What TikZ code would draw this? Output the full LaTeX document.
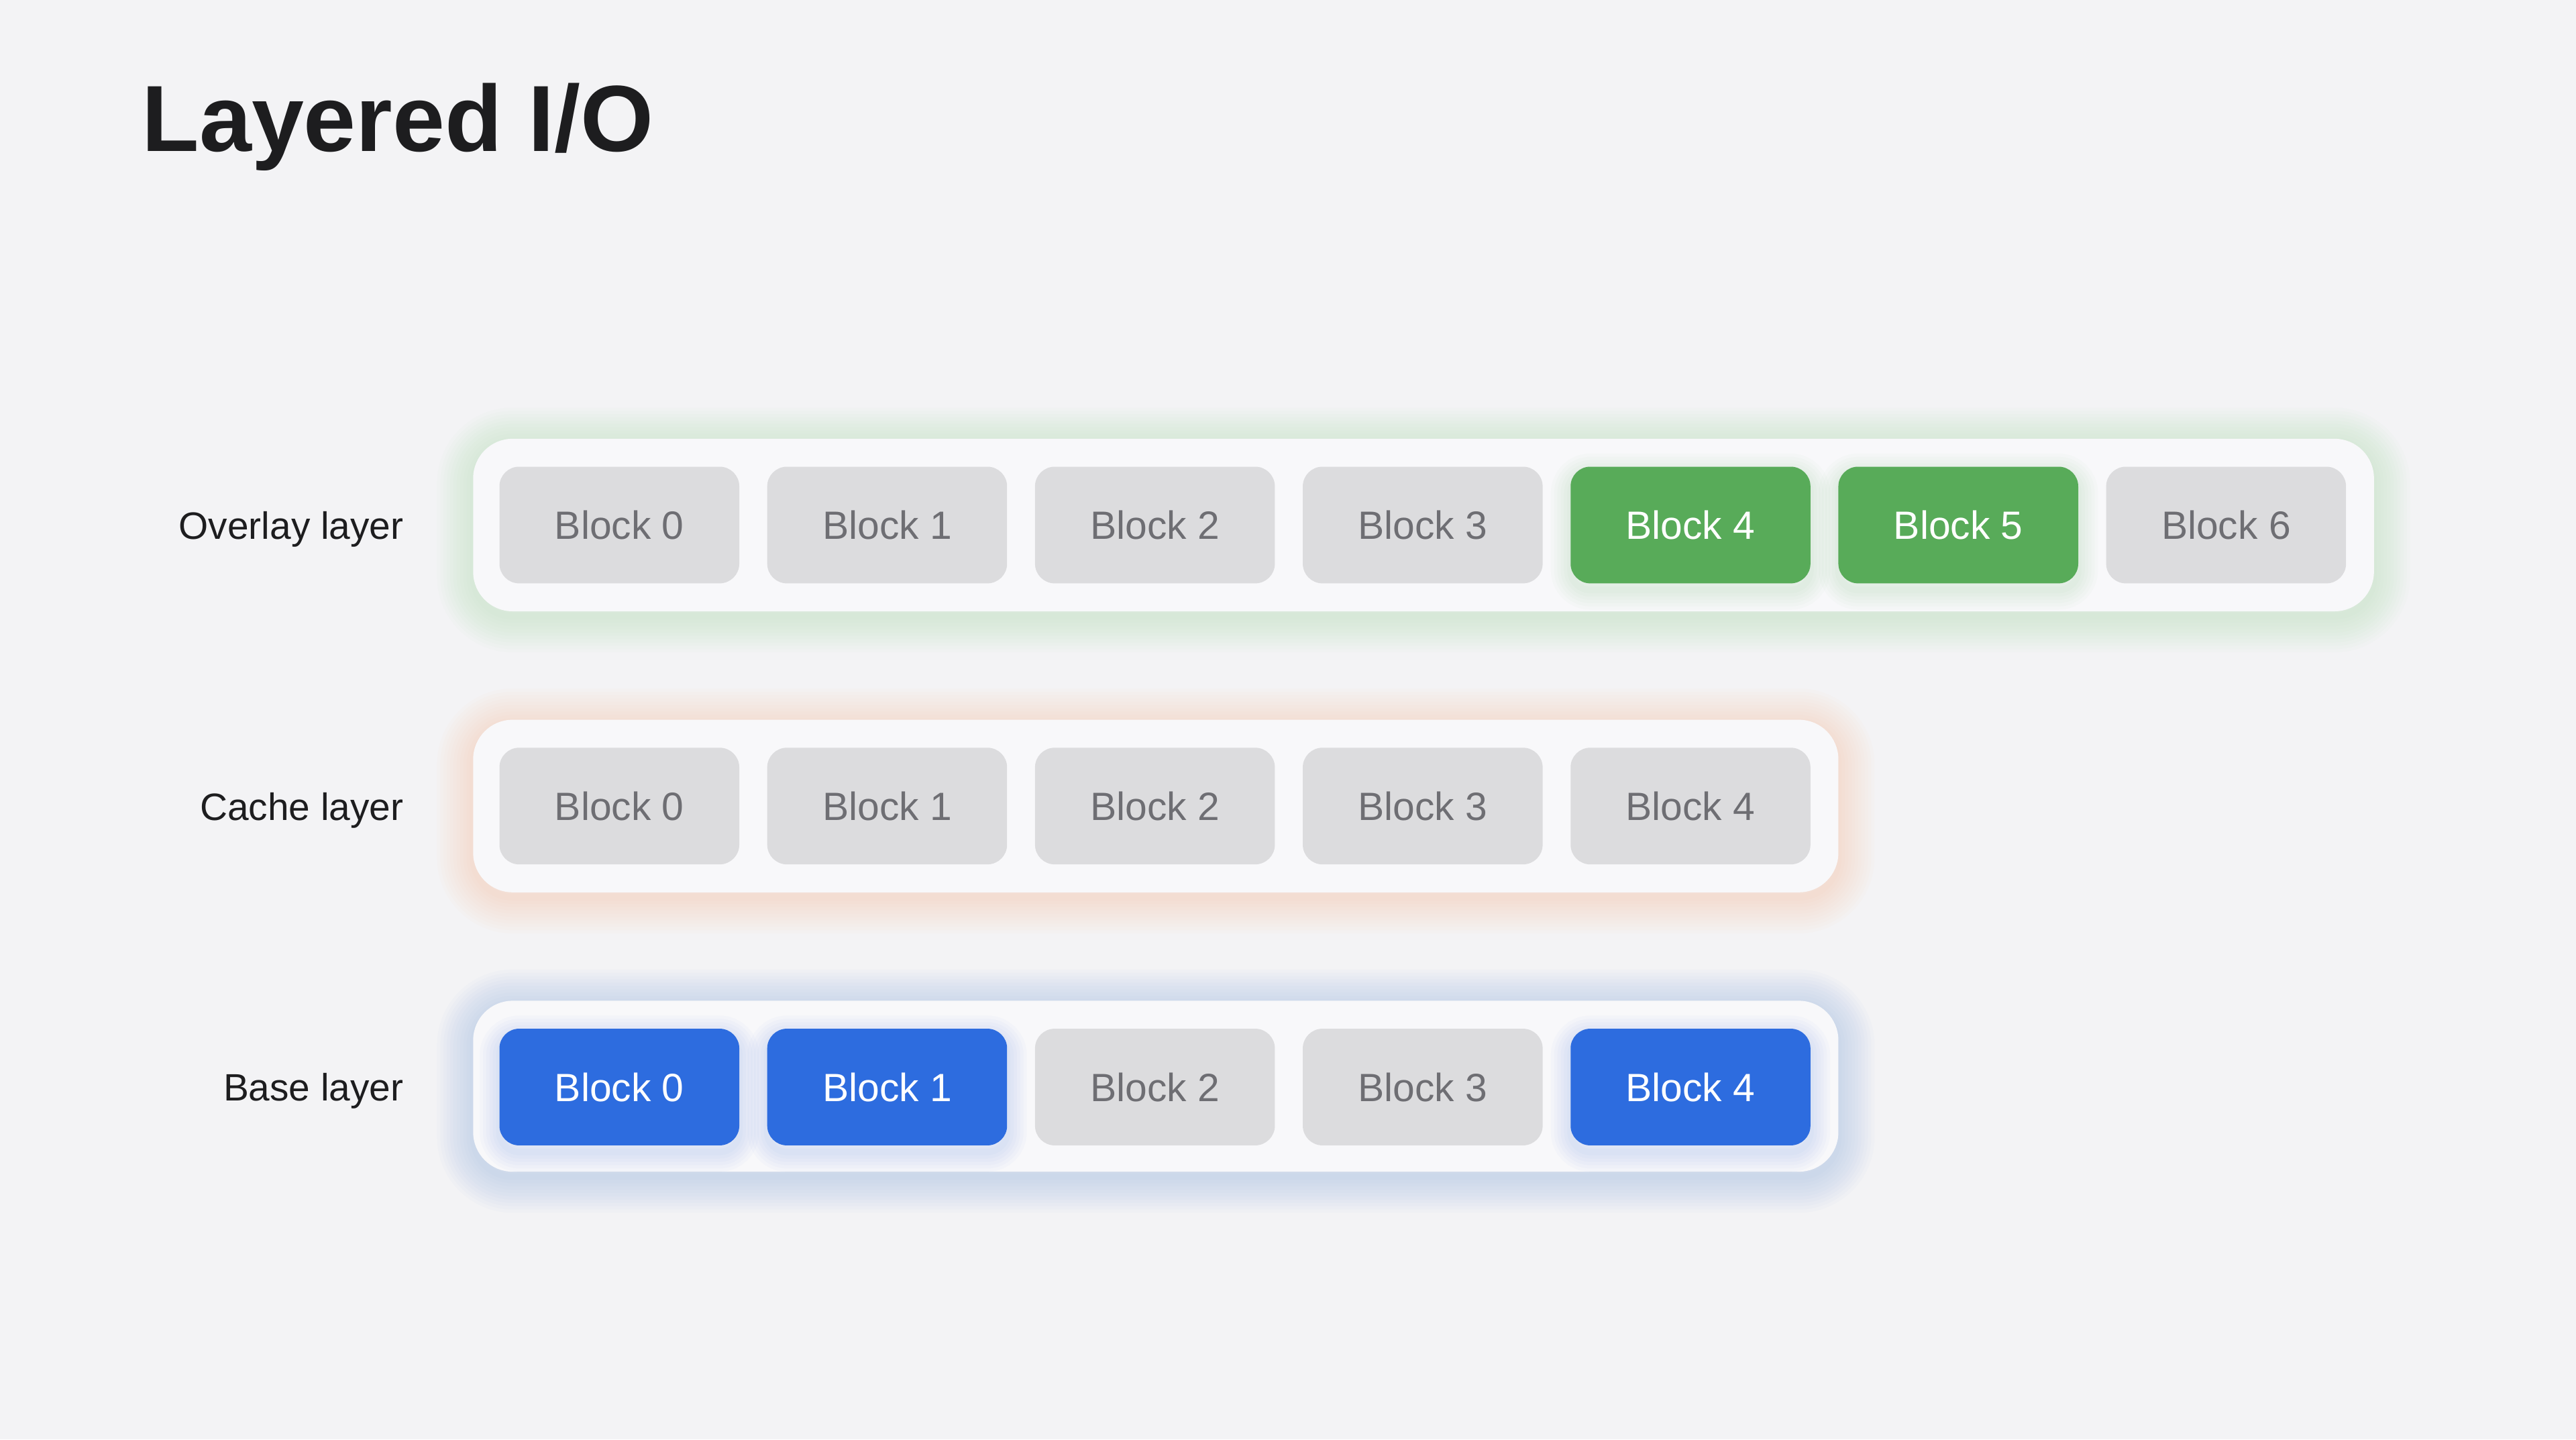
\documentclass[tikz,border=0pt]{standalone}
\usepackage{fontspec}
\setmainfont{Liberation Sans}

\definecolor{pagebg}{HTML}{F3F3F5}
\definecolor{trayfill}{HTML}{F8F8FA}
\definecolor{blockgray}{HTML}{DCDCDE}
\definecolor{blocktext}{HTML}{6E6E73}
\definecolor{labelblack}{HTML}{1D1D1F}
\definecolor{overlaygreen}{HTML}{58AB59}
\definecolor{baseblue}{HTML}{2D6CDF}
\definecolor{greenglow}{HTML}{7CC47C}
\definecolor{orangeglow}{HTML}{F4AE70}
\definecolor{blueglow}{HTML}{7FA6E8}

\tikzset{
    blockbox/.style={rounded corners=6pt, minimum width=73pt, minimum height=35.5pt,
                     inner sep=0pt, font=\fontsize{12}{14}\selectfont},
    idleblock/.style={blockbox, fill=blockgray, text=blocktext},
    greenblock/.style={blockbox, fill=overlaygreen, text=white},
    blueblock/.style={blockbox, fill=baseblue, text=white},
    layerlabel/.style={anchor=base east, inner sep=0pt, text=labelblack,
                       font=\fontsize{11.6}{14}\selectfont},
}

\begin{document}
\begin{tikzpicture}[x=0.5pt,y=-0.5pt]
    \useasboundingbox (0,0) rectangle (1568,876);
    \fill [pagebg] (0,0) rectangle (1568,876);

\node [anchor=base west, inner sep=0pt, text=labelblack,
       font=\fontsize{28.6}{32}\bfseries\selectfont] (title) at (86,92) {Layered I/O};

% soft glow round the trays
\foreach \w in {2,4,...,22} {
    \draw [greenglow, line width=\w pt, draw opacity=0.02, rounded corners=12pt]  (288,270) rectangle (1445,375);
    \draw [orangeglow, line width=\w pt, draw opacity=0.022, rounded corners=12pt] (288,441) rectangle (1119,546);
    \draw [blueglow, line width=\w pt, draw opacity=0.03, rounded corners=12pt]   (288,612) rectangle (1119,716);
}

\fill [trayfill, rounded corners=12pt] (288,267) rectangle (1445,372);
\fill [trayfill, rounded corners=12pt] (288,438) rectangle (1119,543);
\fill [trayfill, rounded corners=12pt] (288,609) rectangle (1119,713);

% glow under the coloured blocks
\foreach \w in {2,4,...,12} {
    \draw [overlaygreen, line width=\w pt, draw opacity=0.022, rounded corners=6pt] (956,288) rectangle (1102,359);
    \draw [overlaygreen, line width=\w pt, draw opacity=0.022, rounded corners=6pt] (1119,288) rectangle (1265,359);
    \draw [baseblue, line width=\w pt, draw opacity=0.025, rounded corners=6pt]     (304,630) rectangle (450,701);
    \draw [baseblue, line width=\w pt, draw opacity=0.025, rounded corners=6pt]     (467,630) rectangle (613,701);
    \draw [baseblue, line width=\w pt, draw opacity=0.025, rounded corners=6pt]     (956,630) rectangle (1102,701);
}

\node [layerlabel] (lbl_overlay) at (246,328) {Overlay layer};
\node [layerlabel] (lbl_cache)   at (246,499) {Cache layer};
\node [layerlabel] (lbl_base)    at (246,670) {Base layer};

\node [idleblock]  (ovl_0) at ( 377,319.5) {Block 0};
\node [idleblock]  (ovl_1) at ( 540,319.5) {Block 1};
\node [idleblock]  (ovl_2) at ( 703,319.5) {Block 2};
\node [idleblock]  (ovl_3) at ( 866,319.5) {Block 3};
\node [greenblock] (ovl_4) at (1029,319.5) {Block 4};
\node [greenblock] (ovl_5) at (1192,319.5) {Block 5};
\node [idleblock]  (ovl_6) at (1355,319.5) {Block 6};

\node [idleblock]  (cch_0) at ( 377,490.5) {Block 0};
\node [idleblock]  (cch_1) at ( 540,490.5) {Block 1};
\node [idleblock]  (cch_2) at ( 703,490.5) {Block 2};
\node [idleblock]  (cch_3) at ( 866,490.5) {Block 3};
\node [idleblock]  (cch_4) at (1029,490.5) {Block 4};

\node [blueblock]  (base_0) at ( 377,661.5) {Block 0};
\node [blueblock]  (base_1) at ( 540,661.5) {Block 1};
\node [idleblock]  (base_2) at ( 703,661.5) {Block 2};
\node [idleblock]  (base_3) at ( 866,661.5) {Block 3};
\node [blueblock]  (base_4) at (1029,661.5) {Block 4};

\end{tikzpicture}
\end{document}
